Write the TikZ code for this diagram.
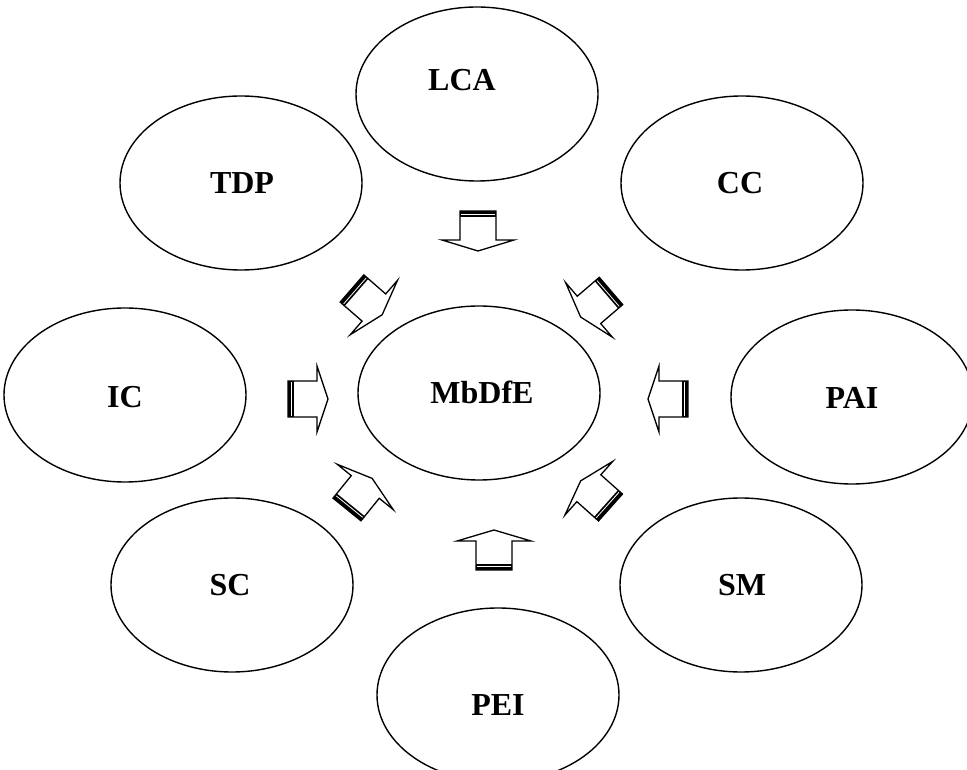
\documentclass[tikz,border=0pt]{standalone}
\usepackage{fontspec}
\setmainfont{Liberation Serif}
\usetikzlibrary{shapes.geometric}
\tikzset{
  ell/.style={draw, line width=1.4pt, ellipse, minimum width=242pt, minimum height=174pt, inner sep=0pt},
  txt/.style={inner sep=0pt, font=\fontsize{32}{38}\selectfont\bfseries},
  arrowline/.style={draw, line width=1.3pt, line join=miter, fill=white}
}
\newcommand\blockarr[4]{%
  \begin{scope}[shift={(#1,#2)},rotate=#3]
    \draw[arrowline] (0,-18)--(29,-18)--(29,-#4)--(40,0)--(29,#4)--(29,18)--(0,18)--cycle;
    \fill (0,-18) rectangle (6,18);
    \draw[white,line width=0.8pt] (3.8,-17) -- (3.8,17);
  \end{scope}}
\begin{document}
\begin{tikzpicture}[x=1pt,y=1pt]
\useasboundingbox (0,0) rectangle (967,769);
\node[ell] (lca) at (477,675) {};
\node[ell] (tdp) at (241,586) {};
\node[ell] (cc) at (742,586) {};
\node[ell] (ic) at (125,374) {};
\node[ell] (mb) at (479,376) {};
\node[ell] (pai) at (852,372) {};
\node[ell] (sc) at (232,184) {};
\node[ell] (sm) at (741,184) {};
\node[ell] (pei) at (498,74) {};
\node[txt] (lcat) at (462,689) {LCA};
\node[txt] (tdpt) at (242,586) {TDP};
\node[txt] (cct) at (740,586) {CC};
\node[txt] (ict) at (125,372) {IC};
\node[txt] (mbt) at (482,377) {MbDfE};
\node[txt] (pait) at (852,371) {PAI};
\node[txt] (sct) at (230,184) {SC};
\node[txt] (smt) at (742,184) {SM};
\node[txt] (peit) at (498,64) {PEI};
\blockarr{478}{558}{-90}{36}
\blockarr{494}{199}{90}{37}
\blockarr{288}{370}{0}{33}
\blockarr{688}{370}{180}{33}
\blockarr{352}{480.5}{-41}{36}
\blockarr{611}{478}{-139.4}{36}
\blockarr{347}{259.5}{51}{36}
\blockarr{610.5}{261.5}{138.3}{36}
\end{tikzpicture}
\end{document}
